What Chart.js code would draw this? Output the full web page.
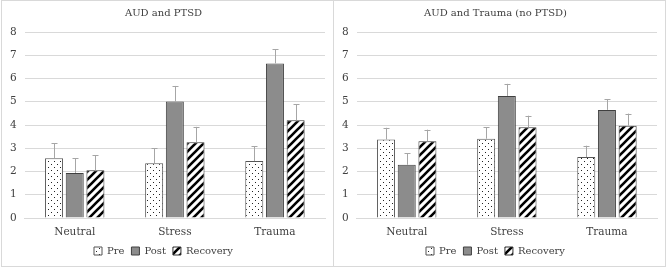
<!DOCTYPE html>
<html>
<head>
<meta charset="utf-8">
<script src="https://cdn.jsdelivr.net/npm/chart.js@4"></script>
<style>
    body { margin: 0; background: #fff; }
    .painel { position: absolute; top: 0; width: 331px; height: 265px; border: 1px solid #d9d9d9; }
    #p1 { left: 1px; }
    #p2 { left: 333px; }
</style>
</head>
<body>
<div class="painel" id="p1"><canvas id="chart1" width="331" height="265"></canvas></div>
<div class="painel" id="p2"><canvas id="chart2" width="331" height="265"></canvas></div>
<script>
const categorias = ['Neutral', 'Stress', 'Trauma'];
const series = ['Pre', 'Post', 'Recovery'];

// AUD and PTSD
const ptsdPre = [2.57, 2.35, 2.45];
const ptsdPost = [1.94, 5.01, 6.65];
const ptsdRecovery = [2.05, 3.26, 4.2];
const ptsdPreErr = [0.65, 0.64, 0.64];
const ptsdPostErr = [0.62, 0.67, 0.61];
const ptsdRecoveryErr = [0.65, 0.66, 0.69];

// AUD and Trauma (no PTSD)
const traumaPre = [3.38, 3.41, 2.62];
const traumaPost = [2.29, 5.25, 4.65];
const traumaRecovery = [3.3, 3.9, 3.97];
const traumaPreErr = [0.5, 0.49, 0.49];
const traumaPostErr = [0.49, 0.52, 0.46];
const traumaRecoveryErr = [0.5, 0.5, 0.52];

const yTicks = [0, 1, 2, 3, 4, 5, 6, 7, 8];

const fonte = "'DejaVu Serif', 'Liberation Serif', serif";

function padraoPontos() {
    const c = document.createElement('canvas');
    c.width = 6; c.height = 6;
    const g = c.getContext('2d');
    g.fillStyle = '#fff';
    g.fillRect(0, 0, 6, 6);
    g.fillStyle = '#222';
    g.fillRect(1, 1, 1, 1);
    g.fillRect(4, 4, 1, 1);
    return g.createPattern(c, 'repeat');
}

function padraoListras() {
    const c = document.createElement('canvas');
    const s = 8;
    c.width = s; c.height = s;
    const g = c.getContext('2d');
    g.fillStyle = '#fff';
    g.fillRect(0, 0, s, s);
    g.strokeStyle = '#000';
    g.lineWidth = 2.6;
    g.beginPath();
    g.moveTo(-s, s); g.lineTo(s, -s);
    g.moveTo(0, s * 2); g.lineTo(s * 2, 0);
    g.moveTo(-s, s * 2); g.lineTo(s * 2, -s);
    g.stroke();
    return g.createPattern(c, 'repeat');
}

// barras de erro (só para cima)
const errorBars = {
    id: 'errorBars',
    afterDatasetsDraw(chart) {
        const ctx = chart.ctx;
        const y = chart.scales.y;
        ctx.save();
        ctx.strokeStyle = '#a6a6a6';
        ctx.lineWidth = 1;
        chart.data.datasets.forEach((ds, i) => {
            const meta = chart.getDatasetMeta(i);
            meta.data.forEach((bar, j) => {
                const topo = y.getPixelForValue(ds.data[j] + ds.erros[j]);
                const x = Math.round(bar.x) + 0.5;
                ctx.beginPath();
                ctx.moveTo(x, bar.y);
                ctx.lineTo(x, topo);
                ctx.moveTo(x - 3, Math.round(topo) + 0.5);
                ctx.lineTo(x + 3, Math.round(topo) + 0.5);
                ctx.stroke();
            });
        });
        ctx.restore();
    }
};

function criarGrafico(id, titulo, pre, post, rec, preErr, postErr, recErr) {
    const ctx = document.getElementById(id).getContext('2d');
    return new Chart(ctx, {
        type: 'bar',
        data: {
            labels: categorias,
            datasets: [
                { label: series[0], data: pre, erros: preErr, backgroundColor: padraoPontos(), borderColor: '#555', borderWidth: 1 },
                { label: series[1], data: post, erros: postErr, backgroundColor: '#8c8c8c', borderColor: '#404040', borderWidth: 1 },
                { label: series[2], data: rec, erros: recErr, backgroundColor: padraoListras(), borderColor: '#333', borderWidth: 1 }
            ]
        },
        options: {
            responsive: false,
            animation: false,
            categoryPercentage: 0.62,
            barPercentage: 0.87,
            layout: { padding: { left: 0, right: 8, top: 0, bottom: 0 } },
            plugins: {
                title: {
                    display: true,
                    text: titulo,
                    color: '#404040',
                    font: { family: fonte, size: 10, weight: 'normal' },
                    padding: { top: 6, bottom: 13 }
                },
                legend: {
                    position: 'bottom',
                    labels: {
                        boxWidth: 8,
                        boxHeight: 8,
                        color: '#404040',
                        font: { family: fonte, size: 10 },
                        padding: 7
                    }
                },
                tooltip: { enabled: false }
            },
            scales: {
                x: {
                    grid: { display: false, drawTicks: false },
                    border: { color: '#d9d9d9' },
                    ticks: { color: '#404040', font: { family: fonte, size: 10.5, lineHeight: 1.7 }, padding: 5 },
                    afterFit: s => { s.height = 21; }
                },
                y: {
                    min: 0,
                    max: 8,
                    afterBuildTicks: s => { s.ticks = yTicks.map(v => ({ value: v })); },
                    grid: { color: '#d9d9d9', drawTicks: false },
                    border: { display: false },
                    ticks: { color: '#404040', font: { family: fonte, size: 10.5 }, padding: 8 }
                }
            }
        },
        plugins: [errorBars]
    });
}

criarGrafico('chart1', 'AUD and PTSD', ptsdPre, ptsdPost, ptsdRecovery, ptsdPreErr, ptsdPostErr, ptsdRecoveryErr);
criarGrafico('chart2', 'AUD and Trauma (no PTSD)', traumaPre, traumaPost, traumaRecovery, traumaPreErr, traumaPostErr, traumaRecoveryErr);
</script>
</body>
</html>
